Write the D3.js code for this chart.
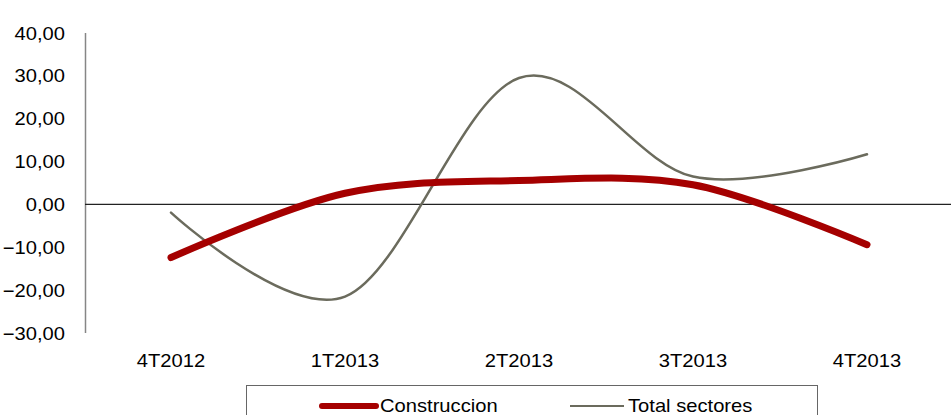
<!DOCTYPE html>
<html><head><meta charset="utf-8">
<script src="https://cdn.jsdelivr.net/npm/d3@7"></script>
<style>body{margin:0;background:#fff}svg{display:block}text{font-family:"Liberation Sans",Arial,sans-serif;fill:#000}</style>
</head><body>
<svg id="c" width="951" height="415"></svg>
<script>
const categories = ["4T2012","1T2013","2T2013","3T2013","4T2013"];
const construccion = [-12.4, 2.6, 5.6, 4.6, -9.4];
const totalSectores = [-1.9, -21.5, 29.5, 6.5, 11.7];
const yTicks = [40,30,20,10,0,-10,-20,-30];
const seriesNames = ["Construccion","Total sectores"];

const svg = d3.select("#c");
const x = d3.scalePoint().domain(categories).range([171, 867]);
const y = d3.scaleLinear().domain([-30, 40]).range([333, 33]);
const fmt = v => d3.format(".2f")(v).replace(".", ",");
const SX = 1.12, FS = 18;

function stretchedText(g, tx, ty, str, anchor) {
  g.append("text")
    .attr("transform", `translate(${tx},${ty}) scale(${SX},1)`)
    .attr("text-anchor", anchor)
    .attr("font-size", FS)
    .text(str);
}

// Y axis
const ya = svg.append("g");
ya.append("line").attr("x1", 85.5).attr("x2", 85.5).attr("y1", y(40)).attr("y2", y(-30))
  .attr("stroke", "#868686").attr("stroke-width", 1.5);
yTicks.forEach(t => stretchedText(ya, 65, y(t) + 6.5, fmt(t), "end"));

// zero line
svg.append("line").attr("x1", 85).attr("x2", 955).attr("y1", y(0)).attr("y2", y(0))
  .attr("stroke", "#222").attr("stroke-width", 1.2);

// X labels
categories.forEach(c => stretchedText(svg, x(c), 367, c, "middle"));

const line = d3.line().x((d, i) => x(categories[i])).y(d => y(d)).curve(d3.curveCardinal.tension(0));

svg.append("path").datum(totalSectores).attr("d", line).attr("fill", "none")
  .attr("stroke", "#6b6b5d").attr("stroke-width", 2.5).attr("stroke-linecap", "round");
svg.append("path").datum(construccion).attr("d", line).attr("fill", "none")
  .attr("stroke", "#a50000").attr("stroke-width", 7).attr("stroke-linecap", "round");

// Legend
const lg = svg.append("g");
lg.append("rect").attr("x", 246.5).attr("y", 385.5).attr("width", 571).attr("height", 40)
  .attr("fill", "#fff").attr("stroke", "#666").attr("stroke-width", 1);
lg.append("line").attr("x1", 322).attr("x2", 376).attr("y1", 406).attr("y2", 406)
  .attr("stroke", "#a50000").attr("stroke-width", 6).attr("stroke-linecap", "round");
stretchedText(lg, 380, 412, seriesNames[0], "start");
lg.append("line").attr("x1", 570).attr("x2", 624).attr("y1", 406).attr("y2", 406)
  .attr("stroke", "#6b6b5d").attr("stroke-width", 2);
stretchedText(lg, 628, 412, seriesNames[1], "start");
</script>
</body></html>
